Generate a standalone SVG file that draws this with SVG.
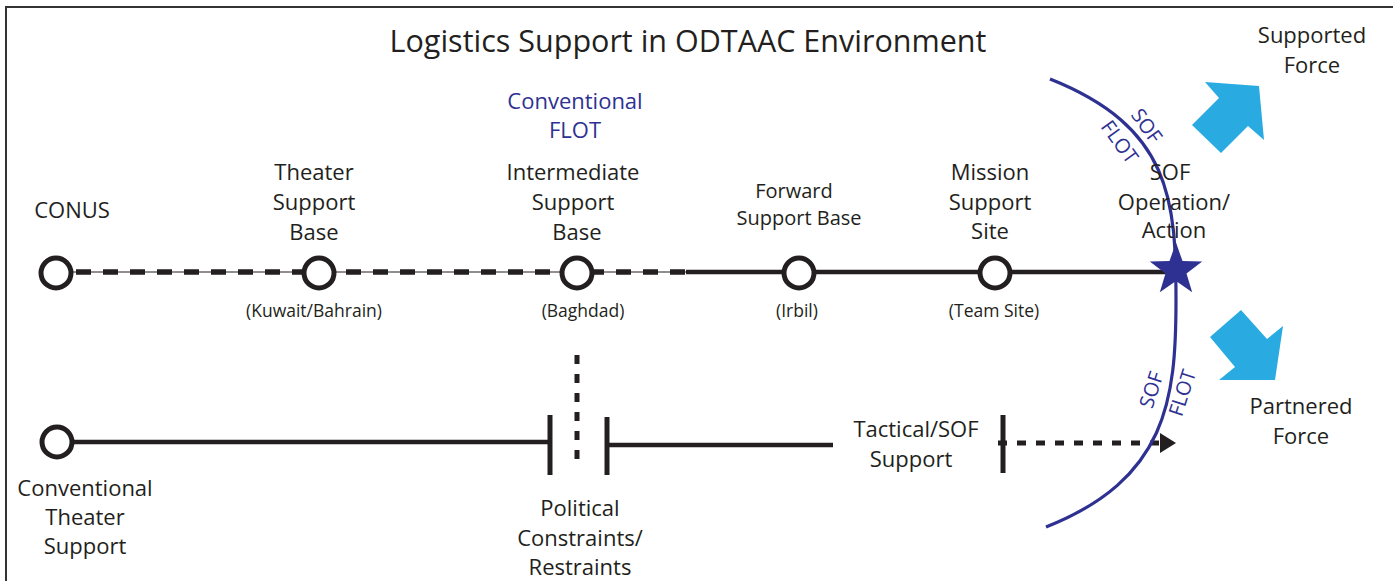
<svg xmlns="http://www.w3.org/2000/svg" width="1393" height="581" viewBox="0 0 1393 581">
  <style>
    .t { font-family: "Open Sans", "Liberation Sans", sans-serif; fill: #231f20; text-anchor: middle; }
    .lbl { font-size: 22px; }
    .sm { font-size: 20px; }
    .loc { font-size: 17.5px; }
    .flot { font-size: 20px; }
    .blue { fill: #2e3192; }
    .node { fill: #ffffff; stroke: #231f20; stroke-width: 5; }
    .solid { stroke: #231f20; stroke-width: 4.5; fill: none; }
    .bar { stroke: #231f20; stroke-width: 5; fill: none; }
    .force { fill: #29abe2; }
  </style>
  <defs>
    <marker id="tri" viewBox="0 0 16 20" refX="0" refY="10" markerWidth="16" markerHeight="20" markerUnits="userSpaceOnUse" orient="auto">
      <path d="M0,0 L16,10 L0,20 Z" fill="#231f20"/>
    </marker>
  </defs>

  <rect width="1393" height="581" fill="#ffffff"/>
  <!-- frame (top and left edges only) -->
  <path d="M6,581 V7 H1393" fill="none" stroke="#333333" stroke-width="2"/>

  <text class="t" x="688" y="52" font-size="30.5">Logistics Support in ODTAAC Environment</text>

  <!-- connectors -->
  <g id="connectors">
    <!-- strategic leg: thin line with heavy dashes -->
    <line x1="57" y1="272" x2="688" y2="272" stroke="#231f20" stroke-width="1.2"/>
    <line x1="76" y1="272" x2="688" y2="272" stroke="#231f20" stroke-width="5.5" stroke-dasharray="15 12"/>
    <!-- forward leg: solid -->
    <line x1="686" y1="272" x2="1172" y2="272" class="solid"/>
    <!-- conventional theater support -->
    <line x1="72" y1="442" x2="550" y2="442" class="solid"/>
    <line x1="607" y1="445" x2="833" y2="445" class="solid"/>
    <!-- political constraint gap -->
    <line x1="550" y1="415" x2="550" y2="475" class="bar"/>
    <line x1="607" y1="417" x2="607" y2="475" class="bar"/>
    <line x1="577" y1="355" x2="577" y2="460" stroke="#231f20" stroke-width="5" stroke-dasharray="9 10"/>
    <!-- tactical / SOF support -->
    <line x1="1003" y1="415" x2="1003" y2="473" class="bar"/>
    <line x1="998" y1="443" x2="1160" y2="443" stroke="#231f20" stroke-width="5" stroke-dasharray="9 10" marker-end="url(#tri)"/>
  </g>

  <!-- SOF forward line of own troops -->
  <g id="sof-flot">
    <path d="M1050,79 C1171,127 1176,200 1176,300 C1176,400 1167,479 1046,527" fill="none" stroke="#2e3192" stroke-width="3.2"/>
    <text class="t blue flot" transform="translate(1141,130) rotate(54)">SOF</text>
    <text class="t blue flot" transform="translate(1114,146) rotate(54)">FLOT</text>
    <text class="t blue flot" transform="translate(1158,392) rotate(-72)">SOF</text>
    <text class="t blue flot" transform="translate(1189,395) rotate(-72)">FLOT</text>
  </g>

  <g id="conventional-flot">
    <text class="t blue lbl" x="575" y="109">Conventional</text>
    <text class="t blue lbl" x="575" y="138">FLOT</text>
  </g>

  <g id="conus">
    <circle class="node" cx="56" cy="273" r="15"/>
    <text class="t lbl" x="72" y="218">CONUS</text>
  </g>

  <g id="theater-support-base">
    <circle class="node" cx="319" cy="273" r="15"/>
    <text class="t lbl" x="314" y="180">Theater</text>
    <text class="t lbl" x="314" y="210">Support</text>
    <text class="t lbl" x="314" y="240">Base</text>
    <text class="t loc" x="314" y="317">(Kuwait/Bahrain)</text>
  </g>

  <g id="intermediate-support-base">
    <circle class="node" cx="577" cy="273" r="15"/>
    <text class="t lbl" x="573" y="180">Intermediate</text>
    <text class="t lbl" x="573" y="210">Support</text>
    <text class="t lbl" x="577" y="240">Base</text>
    <text class="t loc" x="583" y="317">(Baghdad)</text>
  </g>

  <g id="forward-support-base">
    <circle class="node" cx="799" cy="273" r="15"/>
    <text class="t sm" x="794" y="198">Forward</text>
    <text class="t sm" x="799" y="225">Support Base</text>
    <text class="t loc" x="797" y="317">(Irbil)</text>
  </g>

  <g id="mission-support-site">
    <circle class="node" cx="995" cy="273" r="15"/>
    <text class="t lbl" x="990" y="180">Mission</text>
    <text class="t lbl" x="990" y="210">Support</text>
    <text class="t lbl" x="990" y="239">Site</text>
    <text class="t loc" x="994" y="317">(Team Site)</text>
  </g>

  <g id="sof-operation">
    <polygon fill="#2e3192" points="1176,242.5 1182.5,261.1 1202.2,261.5 1186.5,273.4 1192.2,292.3 1176,281 1159.8,292.3 1165.5,273.4 1149.8,261.5 1169.5,261.1"/>
    <text class="t lbl" x="1170" y="180">SOF</text>
    <text class="t lbl" x="1174" y="210">Operation/</text>
    <text class="t lbl" x="1174" y="238">Action</text>
  </g>

  <g id="supported-force">
    <polygon class="force" points="1205,82 1259,86 1264,140 1248,126 1221,153 1192,125 1219,98"/>
    <text class="t lbl" x="1312" y="43">Supported</text>
    <text class="t lbl" x="1312" y="73">Force</text>
  </g>

  <g id="partnered-force">
    <polygon class="force" points="1241,310 1267,339 1283,326 1275,380 1219,380 1235,367 1210,337"/>
    <text class="t lbl" x="1301" y="414">Partnered</text>
    <text class="t lbl" x="1301" y="444">Force</text>
  </g>

  <g id="conventional-theater-support">
    <circle class="node" cx="57" cy="442" r="15"/>
    <text class="t lbl" x="85" y="496">Conventional</text>
    <text class="t lbl" x="85" y="525">Theater</text>
    <text class="t lbl" x="85" y="554">Support</text>
  </g>

  <g id="political-constraints">
    <text class="t lbl" x="580" y="516">Political</text>
    <text class="t lbl" x="580" y="546">Constraints/</text>
    <text class="t lbl" x="580" y="575">Restraints</text>
  </g>

  <g id="tactical-sof-support">
    <text class="t lbl" x="916" y="437">Tactical/SOF</text>
    <text class="t lbl" x="911" y="467">Support</text>
  </g>
</svg>
